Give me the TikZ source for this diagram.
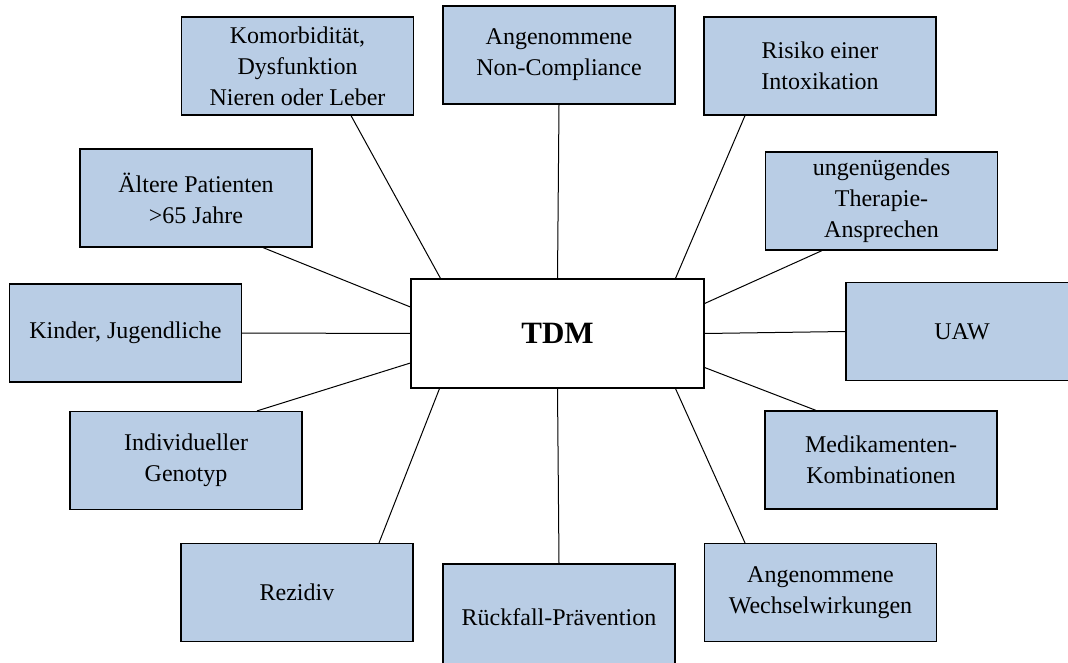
\documentclass[tikz,border=0pt]{standalone}
\usepackage{fontspec}
\setmainfont{Liberation Serif}
\usepackage{tikz}
\usetikzlibrary{positioning}
\definecolor{boxblue}{RGB}{185,205,229}

\begin{document}
\begin{tikzpicture}[
  x=1pt, y=-1pt,
  factor/.style={draw, line width=1.2pt, fill=boxblue, minimum width=232pt, minimum height=98pt, align=center, inner sep=2pt, font=\fontsize{24}{31}\selectfont},
  hub/.style={draw, line width=1.2pt, fill=white, minimum width=293pt, minimum height=109pt, font=\fontsize{31}{36}\selectfont\bfseries},
  link/.style={line width=1pt}
]
\clip (0,0) rectangle (1068,663);

% Centre
\node[hub] (tdm) at (557.5,333.5) {TDM};

% Factors (top row)
\node[factor] (komorb) at (297.5,66) {Komorbidität,\\Dysfunktion\\Nieren oder Leber};
\node[factor] (noncomp) at (559,55) {Angenommene\\Non-Compliance};
\node[factor] (intox) at (820,66) {Risiko einer\\Intoxikation};

% Factors (left side)
\node[factor] (aeltere) at (196,198) {Ältere Patienten\\>65 Jahre};
\node[factor] (kinder) at (125.5,333) {Kinder, Jugendliche};
\node[factor] (genotyp) at (186,460.5) {Individueller\\Genotyp};

% Factors (right side)
\node[factor] (ansprechen) at (881.5,201) {ungenügendes\\Therapie-\\Ansprechen};
\node[factor] (uaw) at (962,331.5) {UAW};
\node[factor] (kombi) at (881,460) {Medikamenten-\\Kombinationen};

% Factors (bottom row)
\node[factor] (rezidiv) at (297,592.5) {Rezidiv};
\node[factor, minimum height=106pt] (praevention) at (559,617) {Rückfall-Prävention};
\node[factor] (wechsel) at (820.5,592.5) {Angenommene\\Wechselwirkungen};

% Links to TDM
\draw[link] ([xshift=53.5pt]komorb.south) -- ([xshift=-117pt]tdm.north);
\draw[link] (noncomp.south) -- (tdm.north);
\draw[link] ([xshift=-75pt]intox.south) -- ([xshift=118pt]tdm.north);
\draw[link] ([xshift=-59.5pt]ansprechen.south) -- ([yshift=30pt]tdm.east);
\draw[link] (uaw.west) -- (tdm.east);
\draw[link] ([xshift=-65pt]kombi.north) -- ([yshift=-34pt]tdm.east);
\draw[link] ([xshift=-75.5pt]wechsel.north) -- ([xshift=118pt]tdm.south);
\draw[link] (praevention.north) -- (tdm.south);
\draw[link] ([xshift=82pt]rezidiv.north) -- ([xshift=-118pt]tdm.south);
\draw[link] ([xshift=71pt]genotyp.north) -- ([yshift=-29.5pt]tdm.west);
\draw[link] (kinder.east) -- (tdm.west);
\draw[link] ([xshift=67pt]aeltere.south) -- ([yshift=26.5pt]tdm.west);

\end{tikzpicture}
\end{document}
